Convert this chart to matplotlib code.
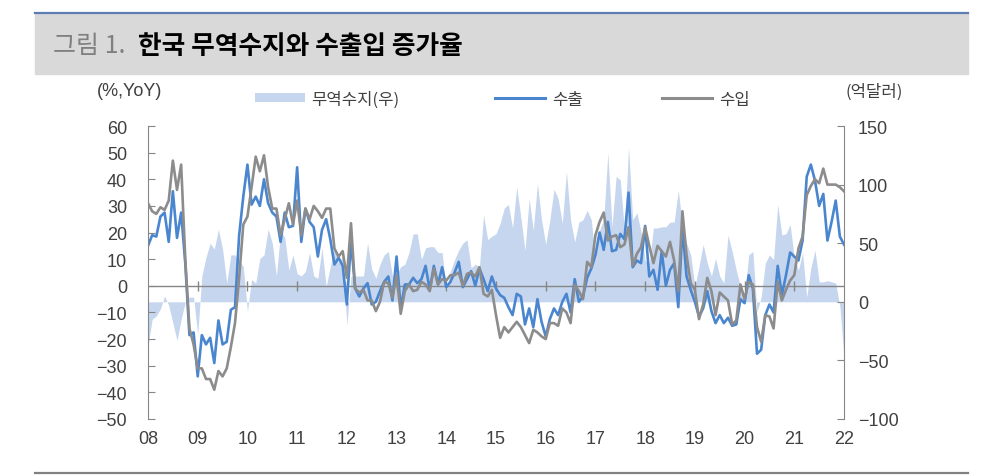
import numpy as np
import matplotlib.pyplot as plt
from matplotlib.patches import Rectangle, Patch
from matplotlib.lines import Line2D

# 월별 데이터: 2008.01 ~ 2022.01
years = list(range(2008, 2023))
year_labels = [f"{y % 100:02d}" for y in years]

# 수출 증가율 (%, YoY)
exports = [
    15, 19, 18.5, 26, 27.5, 16.5, 35.5, 18, 27.5, 8.5, -18.5, -17.5,      # 2008
    -34, -18.5, -22, -19.5, -29, -13, -22, -21, -9, -8, 19, 33.5,         # 2009
    45.5, 30.5, 33.5, 30, 40, 31, 27.5, 26, 16.5, 27.5, 22, 22.5,         # 2010
    44.5, 16.5, 29, 24, 22, 11, 21, 25, 17.5, 8, 10.5, 7.5,               # 2011
    -7, 17, -1, -4, -1, 1, -7, -6, -2, 1.5, 3.5, -5.5,                    # 2012
    11, -8.5, 0.5, 0.5, 3, 1, 2.5, 7.5, -1.5, 7.5, 0.5, 7,                # 2013
    -0.5, 1.5, 5, 9, -0.5, 2.5, 5.5, 0, 6.5, 2.5, -2, 3.5,                # 2014
    -1, -3.5, -4.5, -8, -11, -3, -4, -14.5, -8.5, -15.5, -5, -13.5,       # 2015
    -19, -12.5, -8.5, -11, -6, -3, -10, 2.5, -6, -4, 3, 6.5,              # 2016
    11.5, 20, 13.5, 24, 13, 13.5, 19.5, 17.5, 35, 7, 9.5, 8.5,            # 2017
    22.5, 3.5, 6, -1.5, 13, 0, 6, 8.5, -8, 22, 3.5, -1.5,                 # 2018
    -6, -11.5, -8.5, -2, -9.5, -14, -11, -14, -12, -15, -14.5, -5,        # 2019
    -6.5, 4, -1, -25.5, -24, -11, -7, -10, 7.5, -3.5, 4, 12.5,            # 2020
    11, 9.5, 17, 41, 45.5, 39.5, 30, 34.5, 17, 24, 32, 18.5,              # 2021
    15.5,                                                                  # 2022
]

# 수입 증가율 (%, YoY)
imports = [
    31, 28, 27, 29.5, 28.5, 32, 47, 36, 45.5, 10, -16, -22,
    -31, -31, -35, -35, -39, -32, -34, -31, -23, -14, 3, 23,
    26, 37, 48.5, 43, 49, 37, 29, 29, 19, 25, 31, 23,
    32, 19, 29, 25, 30, 28, 25.5, 29, 29, 14, 11, 13,
    3, 23.5, -1, -2.5, -1.5, -5.5, -5.5, -9.5, -6, 1.5, 1, -4.5,
    4, -10.5, -2, 0.5, -2, -1.5, 1.5, 0.5, -2, 6.5, 0.5, 2.5,
    2, 4, 4, 5, 0, 4.5, 5, 3.5, 7, -3, -4, -1.5,
    -11, -19.5, -15.5, -17.5, -15.5, -13.5, -15.5, -18.5, -21.5, -16.5, -17.5, -19,
    -20, -14, -14, -15, -8.5, -10, -14, 0.5, -2, -5, 9, 7,
    19, 24, 27.5, 17, 18.5, 19, 14.5, 15.5, 22, 7.5, 12, 14.5,
    22, 15, 8.5, 15, 13, 11, 16.5, 9.5, -2, 28, 11.5, 1,
    -1.5, -12.5, -7, 3, -2, -11, -2.5, -4, -5.5, -14.5, -13, 0.5,
    -5, 1.5, 0.5, -15.5, -21, -11, -11.5, -16, 1.5, -5.5, -1.5, 2,
    4, 14, 18.5, 34, 37.5, 40, 38.5, 44, 38, 38, 38, 37,
    35.5,
]

# 무역수지 (억달러, 우축)
balance = [
    -38, -15, -12, -6, 5, -3, -18, -33, -15, 0, 4, 4,
    -28, 22, 38, 50, 45, 62, 45, 16, 40, 40, 35, 30,
    -8, 19, 16, 37, 40, 62, 50, 22, 60, 55, 27, 40,
    24, 22, 26, 42, 22, 20, 46, 13, 30, 46, 33, 39,
    -20, 22, 22, 22, 22, 50, 28, 20, 32, 40, 43, 22,
    23, 30, 32, 42, 58, 58, 36, 46, 47, 47, 42, 42,
    9, 26, 36, 44, 50, 53, 29, 32, 30, 74, 53, 56,
    58, 67, 80, 83, 63, 98, 72, 44, 88, 61, 101, 70,
    49, 70, 96, 88, 67, 111, 70, 51, 68, 70, 78, 70,
    36, 61, 70, 127, 64, 107, 104, 61, 132, 70, 76, 60,
    35, 33, 63, 63, 64, 64, 68, 68, 95, 65, 50, 40,
    13, 30, 49, 33, 22, 37, 22, 16, 57, 43, 27, 13,
    5, 40, 43, -9, 4, 33, 40, 36, 83, 57, 58, 66,
    37, 27, 42, 4, 29, 44, 17, 17, 18, 17, 16, -4,
    -47,
]

x = 2008 + np.arange(len(exports)) / 12

num_font = ['Liberation Sans Narrow', 'Liberation Sans', 'Noto Sans CJK KR']
kr_font = ['Noto Sans CJK KR', 'DejaVu Sans']
plt.rcParams['font.family'] = num_font

c_area = '#c6d6ee'
c_exp = '#4a86d0'
c_imp = '#8c8c8c'
c_axis = '#868686'
c_text = '#404040'

W, H = 992, 477
fig = plt.figure(figsize=(W / 100, H / 100), dpi=100)

# 제목 바
fig.patches.append(Rectangle((35 / W, 1 - 75 / H), (968 - 35) / W, 61 / H,
                             transform=fig.transFigure, color='#d9d9d9', zorder=0))
fig.add_artist(Line2D([35 / W, 968 / W], [1 - 14 / H] * 2, color='#5b7db1', lw=1.6))
fig.add_artist(Line2D([35 / W, 968 / W], [1 - 474 / H] * 2, color='#808080', lw=1.6))
fig.text(53 / W, 1 - 46 / H, '그림 1.', family=kr_font, fontsize=18, color='#808080', va='center')
fig.text(138 / W, 1 - 46 / H, '한국 무역수지와 수출입 증가율', family=kr_font, fontsize=18.5,
         fontweight='bold', color='black', va='center')

ax = fig.add_axes([148 / W, 1 - 420 / H, (844 - 148) / W, (420 - 127) / H])
ax2 = ax.twinx()

ax2.fill_between(x, balance, 0, color=c_area, lw=0)
ax2.set_ylim(-100, 150)
ax2.set_yticks(range(-100, 151, 50))

ax.axhline(0, color=c_axis, lw=1.0, zorder=1)
zero_frac = 50 / 110
ax.vlines(years[1:-1], zero_frac - 0.016, zero_frac + 0.016, color=c_axis, lw=1.0,
          transform=ax.get_xaxis_transform(), zorder=1)
ax.plot(x, exports, color=c_exp, lw=1.9, zorder=2)
ax.plot(x, imports, color=c_imp, lw=1.9, zorder=3)
ax.set_zorder(ax2.get_zorder() + 1)
ax.patch.set_visible(False)

ax.set_xlim(2008, 2022)
ax.set_ylim(-50, 60)
ax.set_yticks(range(-50, 61, 10))
ax.set_xticks(years)
ax.set_xticklabels(year_labels)

for a in (ax, ax2):
    for s in ('top', 'bottom'):
        a.spines[s].set_visible(False)
    a.spines['left'].set_color(c_axis)
    a.spines['right'].set_color(c_axis)
ax.spines['right'].set_visible(False)
ax2.spines['left'].set_visible(False)

ax.tick_params(axis='x', length=0, pad=8, labelsize=13, labelcolor=c_text)
ax.tick_params(axis='y', direction='in', length=5, color=c_axis, pad=15,
               labelsize=13, labelcolor=c_text)
ax2.tick_params(axis='y', direction='in', length=5, color=c_axis, pad=10,
                labelsize=13, labelcolor=c_text)

# 범례 / 단위
fig.text(130 / W, 1 - 92 / H, '(%,YoY)', fontsize=13, color=c_text, ha='center', va='center')
fig.text(874 / W, 1 - 92 / H, '(억달러)', family=kr_font, fontsize=12, color=c_text,
         ha='center', va='center')
legend_items = [
    (Patch(facecolor=c_area, edgecolor='none'), '무역수지(우)', 255),
    (Line2D([], [], color=c_exp, lw=2.2), '수출', 495),
    (Line2D([], [], color=c_imp, lw=2.2), '수입', 662),
]
for handle, label, left in legend_items:
    fig.legend([handle], [label], loc='center left', bbox_to_anchor=(left / W, 1 - 100 / H),
               frameon=False, prop={'family': kr_font, 'size': 12},
               handlelength=3.0, handleheight=0.45, handletextpad=0.4,
               borderpad=0, borderaxespad=0, labelcolor=c_text)

fig.savefig('out.png', dpi=100)
